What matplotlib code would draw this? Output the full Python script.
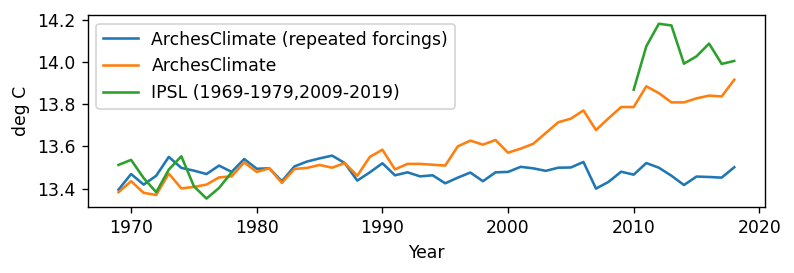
import numpy as np
import matplotlib
matplotlib.use("Agg")
import matplotlib.pyplot as plt

years = np.arange(1969, 2019)

arches_repeated = [
    13.395, 13.469, 13.419, 13.461, 13.550, 13.498, 13.485, 13.469, 13.509, 13.479,
    13.540, 13.494, 13.496, 13.435, 13.505, 13.528, 13.543, 13.556, 13.521, 13.438,
    13.477, 13.520, 13.463, 13.477, 13.458, 13.463, 13.425, 13.452, 13.476, 13.435,
    13.477, 13.479, 13.503, 13.496, 13.484, 13.499, 13.500, 13.526, 13.400, 13.432,
    13.480, 13.466, 13.521, 13.499, 13.461, 13.417, 13.457, 13.455, 13.452, 13.501,
]

arches = [
    13.383, 13.435, 13.380, 13.370, 13.471, 13.401, 13.408, 13.419, 13.453, 13.458,
    13.524, 13.479, 13.496, 13.427, 13.493, 13.498, 13.512, 13.499, 13.521, 13.461,
    13.550, 13.584, 13.491, 13.517, 13.517, 13.513, 13.509, 13.600, 13.627, 13.608,
    13.630, 13.570, 13.589, 13.612, 13.663, 13.714, 13.731, 13.770, 13.677, 13.733,
    13.786, 13.786, 13.884, 13.852, 13.808, 13.808, 13.827, 13.840, 13.836, 13.915,
]

ipsl_years_1 = np.arange(1969, 1979)
ipsl_vals_1 = [13.512, 13.536, 13.450, 13.383, 13.490, 13.553, 13.411, 13.353, 13.403, 13.477]
ipsl_years_2 = np.arange(2010, 2019)
ipsl_vals_2 = [13.868, 14.073, 14.180, 14.172, 13.991, 14.026, 14.086, 13.990, 14.004]

ipsl = np.full(len(years), np.nan)
for y, v in zip(ipsl_years_1, ipsl_vals_1):
    ipsl[y - 1969] = v
for y, v in zip(ipsl_years_2, ipsl_vals_2):
    ipsl[y - 1969] = v

DPI = 124
fig = plt.figure(figsize=(794 / DPI, 273 / DPI), dpi=DPI)
ax = fig.add_subplot(111)
fig.subplots_adjust(left=0.1105, right=0.9635, top=0.945, bottom=0.2407)

ax.plot(years, arches_repeated, label="ArchesClimate (repeated forcings)")
ax.plot(years, arches, label="ArchesClimate")
ax.plot(years, ipsl, label="IPSL (1969-1979,2009-2019)")

ax.set_xlabel("Year")
ax.set_ylabel("deg C")
ax.set_yticks([13.4, 13.6, 13.8, 14.0, 14.2])
ax.legend(loc="upper left")

fig.savefig("out.png", dpi=DPI)
